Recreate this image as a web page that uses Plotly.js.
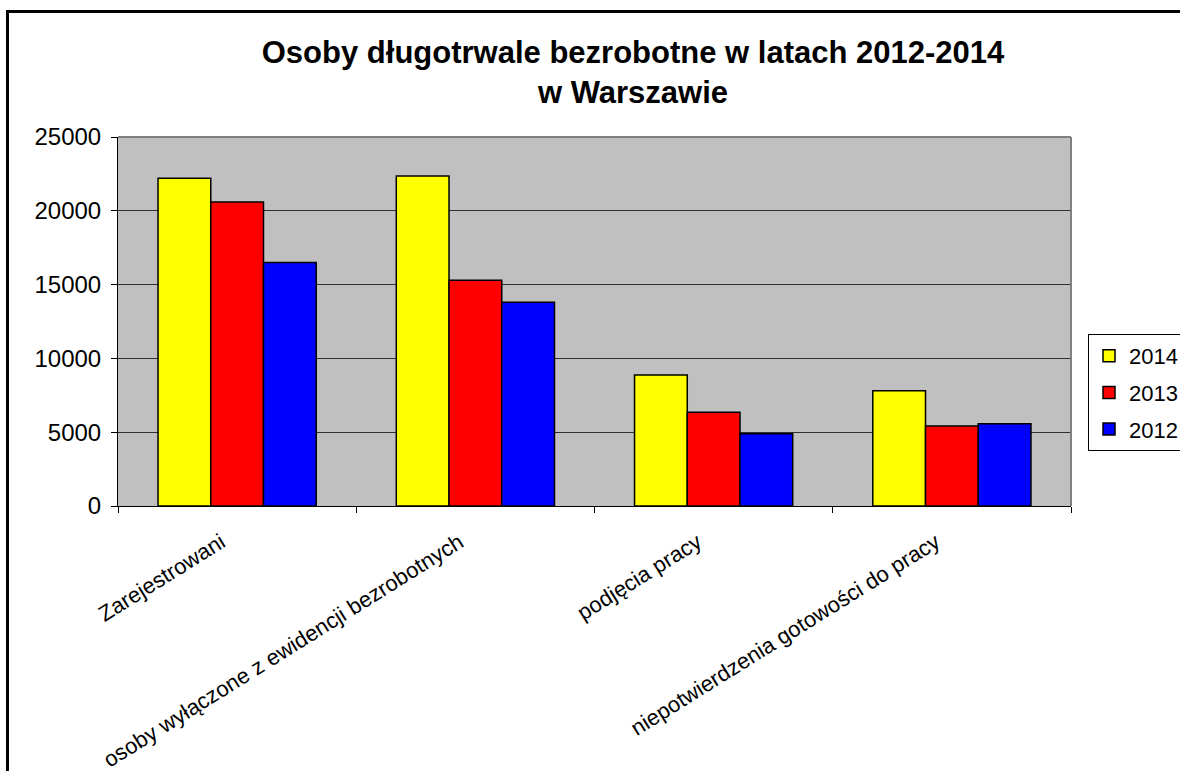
<!DOCTYPE html>
<html>
<head>
<meta charset="utf-8">
<script src="https://cdn.plot.ly/plotly-3.0.1.min.js"></script>
<style>
  html, body { margin: 0; padding: 0; overflow: hidden; background: #fff; }
  #chart { width: 1180px; height: 771px; position: absolute; left: 0; top: 0; }
  #frame { position: absolute; left: 6px; top: 10px; width: 3000px; height: 3000px;
           border-left: 3px solid #000; border-top: 3px solid #000; pointer-events: none; }
</style>
</head>
<body>
<div id="chart"></div>
<div id="frame"></div>
<script>
const categories = [
  'Zarejestrowani',
  'osoby wyłączone z ewidencji bezrobotnych',
  'podjęcia pracy',
  'niepotwierdzenia gotowości do pracy'
];
const years = ['2014', '2013', '2012'];
const values2014 = [22200, 22350, 8870, 7800];
const values2013 = [20600, 15300, 6350, 5420];
const values2012 = [16500, 13800, 4900, 5570];
const yTicks = [0, 5000, 10000, 15000, 20000, 25000];
const colors = ['#FFFF00', '#FF0000', '#0000FF'];

const FONT = 'Liberation Sans, Arial, sans-serif';
const series = [values2014, values2013, values2012];

const traces = series.map((vals, i) => ({
  type: 'bar',
  name: years[i],
  legendgroup: 'g' + i,
  x: categories,
  y: vals,
  marker: { color: colors[i], line: { color: '#000', width: 1.5 } },
  hoverinfo: 'x+y+name'
}));

const layout = {
  width: 1180,
  height: 771,
  paper_bgcolor: 'rgba(0,0,0,0)',
  plot_bgcolor: '#C0C0C0',
  margin: { l: 118, r: 109, t: 137, b: 265 },
  font: { family: FONT, color: '#000' },
  title: {
    text: 'Osoby długotrwale bezrobotne w latach 2012-2014<br>w Warszawie',
    font: { family: FONT, size: 31, color: '#000', weight: 'bold' },
    xref: 'container', x: 633 / 1180, xanchor: 'center',
    yref: 'container', y: 1 - 63 / 771, yanchor: 'top'
  },
  barmode: 'group',
  bargap: 0.336,
  bargroupgap: 0,
  showlegend: true,
  legend: {
    xref: 'container', yref: 'container',
    x: 1088 / 1180, xanchor: 'left',
    y: 1 - 334 / 771, yanchor: 'top',
    bgcolor: '#fff', bordercolor: '#000', borderwidth: 1,
    font: { family: FONT, size: 22, color: '#000' },
    traceorder: 'grouped',
    tracegroupgap: 5
  },
  xaxis: {
    type: 'category',
    tickangle: -32,
    tickfont: { family: FONT, size: 22, color: '#000' },
    showline: true, linecolor: '#000', linewidth: 1,
    ticks: 'outside', ticklen: 6, tickcolor: '#000',
    tickson: 'boundaries',
    ticklabelstandoff: 14,
    ticklabelshift: -16,
    showgrid: false,
    zeroline: false,
    fixedrange: true
  },
  yaxis: {
    range: [0, 25000],
    tickvals: yTicks,
    ticktext: yTicks.map(String),
    tickfont: { family: FONT, size: 24, color: '#000' },
    showline: true, linecolor: '#000', linewidth: 1,
    ticks: 'outside', ticklen: 6, tickcolor: '#000',
    ticklabelstandoff: 5,
    showgrid: true, gridcolor: '#303030', gridwidth: 1,
    zeroline: false,
    fixedrange: true
  },
  shapes: [
    { type: 'line', xref: 'paper', yref: 'paper', x0: 0, x1: 1, y0: 1, y1: 1,
      line: { color: '#808080', width: 2 }, layer: 'above' },
    { type: 'line', xref: 'paper', yref: 'paper', x0: 1, x1: 1, y0: 0, y1: 1,
      line: { color: '#808080', width: 2 }, layer: 'above' }
  ]
};

Plotly.newPlot('chart', traces, layout, { displayModeBar: false, staticPlot: false });
</script>
</body>
</html>
